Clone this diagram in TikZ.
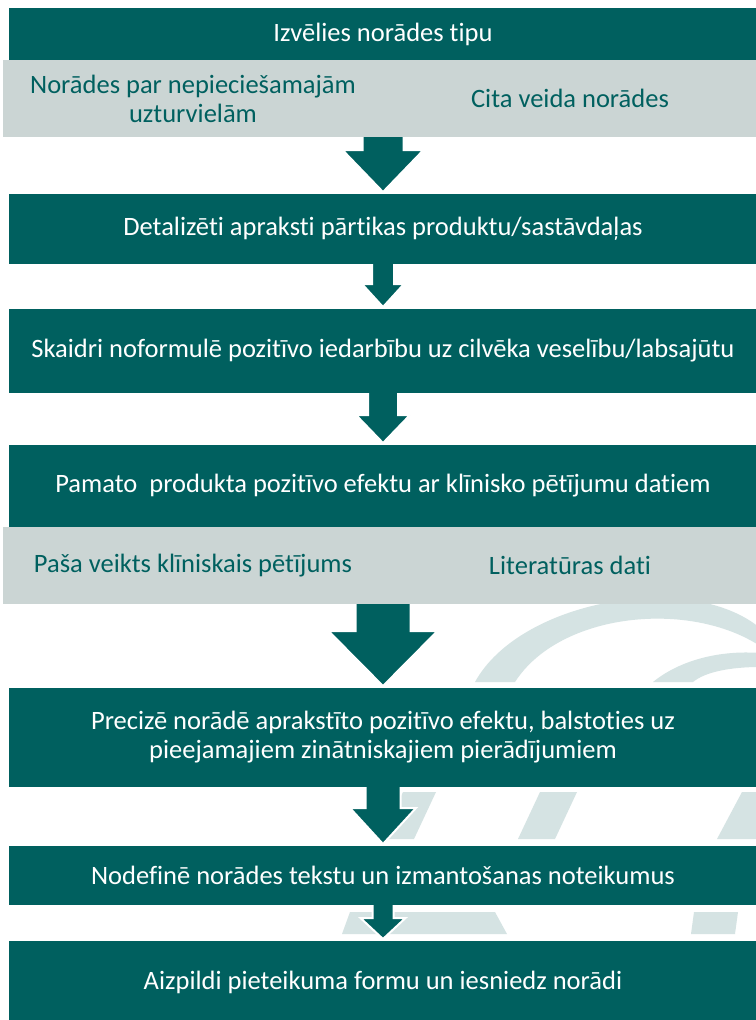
\documentclass[tikz,border=0pt]{standalone}
\usepackage{fontspec}
\setmainfont{Carlito}[RawFeature=-liga]
\usepackage{xcolor}
\usetikzlibrary{positioning,calc}
\definecolor{boxteal}{HTML}{00605F}
\definecolor{bandgrey}{HTML}{CBD5D4}
\definecolor{markgrey}{HTML}{D5E3E3}
\tikzset{
    step-box/.style={
        rectangle,
        fill=boxteal,
        text=white,
        minimum width=748pt,
        inner sep=0pt,
        outer sep=0pt,
        align=center
    },
    band-box/.style={
        rectangle,
        fill=bandgrey,
        text=boxteal,
        minimum height=77pt,
        inner sep=0pt,
        outer sep=0pt,
        align=center
    },
    block-arrow/.style={
        fill=boxteal,
        draw=white,
        line width=2pt,
        line join=miter
    },
    mark-shape/.style={
        fill=markgrey
    }
}

\begin{document}
\begin{tikzpicture}[x=1pt,y=-1pt,font=\fontsize{26.5}{29}\selectfont]
        \useasboundingbox (0,0) rectangle (755,1020);
        \fill[white] (0,0) rectangle (755,1020);
        % faint logo behind the lower steps
        \fill[mark-shape] (475,682) .. controls (520,600) and (690,570) .. (760,628) -- (760,646) .. controls (690,600) and (560,612) .. (515,682) -- cycle;
        \fill[mark-shape] (653,682) .. controls (680,660) and (720,650) .. (760,653) -- (760,667) .. controls (730,667) and (705,672) .. (693,682) -- cycle;
        \fill[mark-shape] (403,792) -- (436,792) -- (414,839) -- (381,839) -- cycle;
        \fill[mark-shape] (540,792) -- (577,792) -- (555,839) -- (518,839) -- cycle;
        \fill[mark-shape] (742,792) -- (760,792) -- (760,839) -- (717,839) -- cycle;
        \fill[mark-shape] (350,912) -- (495,912) -- (507,934) -- (342,934) -- cycle;
        \fill[mark-shape] (694,912) -- (738,912) -- (735,934) -- (691,934) -- cycle;
        % steps
        \node [step-box,minimum height=52pt,anchor=north] (b1) at (383,8) {Izvēlies norādes tipu};
        \node [band-box,minimum width=380pt,below left=0pt and 0pt of b1.south] (g1a) {Norādes par nepieciešamajām\\uzturvielām};
        \node [band-box,minimum width=374pt,below right=0pt and 0pt of b1.south] (g1b) {Cita veida norādes};
        \node [step-box,minimum height=70pt,below=57pt of g1a.south east] (b2) {Detalizēti apraksti pārtikas produktu/sastāvdaļas};
        \node [step-box,minimum height=84pt,below=45pt of b2] (b3) {Skaidri noformulē pozitīvo iedarbību uz cilvēka veselību/labsajūtu};
        \node [step-box,minimum height=82pt,below=52pt of b3] (b4) {Pamato~~produkta pozitīvo efektu ar klīnisko pētījumu datiem};
        \node [band-box,minimum width=380pt,below left=0pt and 0pt of b4.south] (g2a) {Paša veikts klīniskais pētījums};
        \node [band-box,minimum width=374pt,below right=0pt and 0pt of b4.south] (g2b) {Literatūras dati};
        \node [step-box,minimum height=99pt,below=84pt of g2a.south east] (b5) {Precizē norādē aprakstīto pozitīvo efektu, balstoties uz\\pieejamajiem zinātniskajiem pierādījumiem};
        \node [step-box,minimum height=59pt,below=59pt of b5] (b6) {Nodefinē norādes tekstu un izmantošanas noteikumus};
        \node [step-box,minimum height=82pt,below=36pt of b6] (b7) {Aizpildi pieteikuma formu un iesniedz norādi};
        % arrows: from/to/shaft half/head half/head length
        \foreach \src/\tgt/\sw/\hw/\hl in {g1a.south east/b2.north/20.5/40.5/42, b2.south/b3.north/11/21/23, b3.south/b4.north/15/27/28, g2a.south east/b5.north/27.5/54.5/55, b5.south/b6.north/17.5/33/36, b6.south/b7.north/10.5/22.5/21}
            \filldraw[block-arrow] ($(\src)+(-\sw,0)$) -- ($(\tgt)+(-\sw,-2-\hl)$) -- ($(\tgt)+(-\hw,-2-\hl)$) -- ($(\tgt)+(0,-2)$) -- ($(\tgt)+(\hw,-2-\hl)$) -- ($(\tgt)+(\sw,-2-\hl)$) -- ($(\src)+(\sw,0)$);
    \end{tikzpicture}
\end{document}
